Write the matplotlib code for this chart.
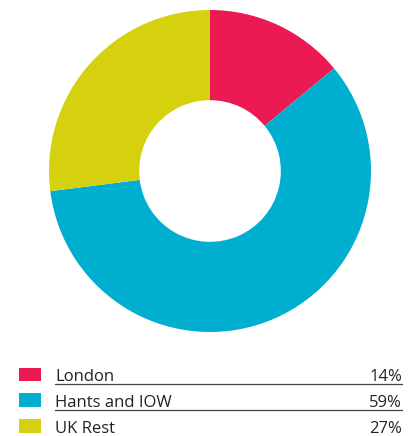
import matplotlib
matplotlib.use("Agg")
import matplotlib.pyplot as plt
from matplotlib.patches import Rectangle

labels = ["London", "Hants and IOW", "UK Rest"]
shares = [14, 59, 27]
colors = ["#EC1A52", "#00AECF", "#D6D10F"]

W, H = 417, 436
fig = plt.figure(figsize=(W / 100, H / 100), dpi=100)

# donut
cx, cy, r = 210, 171, 161
ax = fig.add_axes([(cx - r) / W, (H - cy - r) / H, 2 * r / W, 2 * r / H])
ax.pie(shares, colors=colors, startangle=90, counterclock=False, radius=1,
       wedgeprops=dict(width=0.56, linewidth=0))
ax.set_xlim(-1, 1)
ax.set_ylim(-1, 1)
ax.set_aspect("equal")
ax.axis("off")

# legend table, in pixel coordinates
lg = fig.add_axes([0, 0, 1, 1])
lg.set_xlim(0, W)
lg.set_ylim(H, 0)
lg.axis("off")
row_h = 25.8
for i, (lab, val, col) in enumerate(zip(labels, shares, colors)):
    base = 381 + i * row_h
    lg.add_patch(Rectangle((19.5, base - 13.5), 21.5, 13.5, color=col, lw=0))
    lg.text(55, base, lab, fontsize=12, family="Open Sans", color="#222222",
            va="baseline", ha="left")
    lg.text(402, base, f"{val}%", fontsize=12, family="Open Sans",
            color="#222222", va="baseline", ha="right")
    if i < len(labels) - 1:
        lg.plot([55, 402], [base + 2.8, base + 2.8], color="#444444", lw=0.9)

fig.savefig("out.png", dpi=100)
